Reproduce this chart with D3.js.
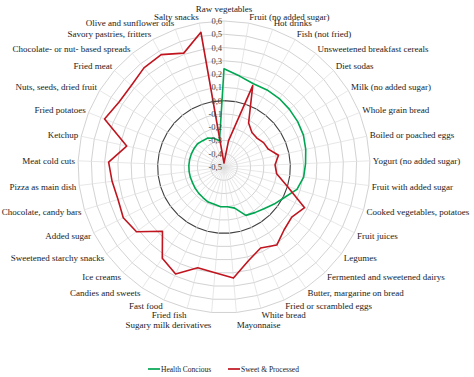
<!DOCTYPE html>
<html>
<head>
<meta charset="utf-8">
<script src="https://cdn.jsdelivr.net/npm/d3@7"></script>
<style>
  body { margin: 0; background: #fff; }
  svg { display: block; font-family: "Liberation Serif", "DejaVu Serif", serif; }
</style>
</head>
<body>
<svg width="474" height="377"></svg>
<script>
// categorias no sentido horário, a partir do topo
const categories = [
  "Raw vegetables", "Fruit (no added sugar)", "Hot drinks", "Fish (not fried)",
  "Unsweetened breakfast cereals", "Diet sodas", "Milk (no added sugar)",
  "Whole grain bread", "Boiled or poached eggs", "Yogurt (no added sugar)",
  "Fruit with added sugar", "Cooked vegetables, potatoes", "Fruit juices",
  "Legumes", "Fermented and sweetened dairys", "Butter, margarine on bread",
  "Fried or scrambled eggs", "White bread", "Mayonnaise",
  "Sugary milk derivatives", "Fried fish", "Fast food", "Candies and sweets",
  "Ice creams", "Sweetened starchy snacks", "Added sugar",
  "Chocolate, candy bars", "Pizza as main dish", "Meat cold cuts", "Ketchup",
  "Fried potatoes", "Nuts, seeds, dried fruit", "Fried meat",
  "Chocolate- or nut- based spreads", "Savory pastries, fritters",
  "Olive and sunflower oils", "Salty snacks"
];

const healthValues = [
  0.24, 0.195, 0.165, 0.165, 0.163, 0.157, 0.152, 0.145, 0.13, 0.115,
  0.105, 0.075, 0.01, -0.03, -0.065, -0.085, -0.10, -0.18, -0.20, -0.20,
  -0.21, -0.21, -0.22, -0.225, -0.23, -0.235, -0.235, -0.235, -0.235, -0.235,
  -0.235, -0.235, -0.235, -0.245, -0.25, -0.27, -0.30
];

const sweetValues = [
  -0.47, -0.30, 0.15, -0.12, -0.165, -0.17, -0.15, -0.14, -0.08, -0.115,
  -0.10, 0.0, 0.18, 0.135, 0.155, 0.21, 0.17, 0.23, 0.34, 0.30,
  0.285, 0.385, 0.33, 0.17, 0.32, 0.35, 0.335, 0.35, 0.37, 0.25,
  0.47, 0.43, 0.43, 0.46, 0.47, 0.41, 0.53
];

const tickValues = [-0.5, -0.4, -0.3, -0.2, -0.1, 0, 0.1, 0.2, 0.3, 0.4, 0.5, 0.6];

const seriesNames = ["Health Concious", "Sweet & Processed"];
const seriesColors = ["#00a651", "#c0141e"];

const svg = d3.select("svg");
const cx = 224, cy = 167, R = 146;

const r = d3.scaleLinear().domain([-0.5, 0.6]).range([0, R]);
const angle = d3.scaleLinear().domain([0, categories.length]).range([0, 2 * Math.PI]);

const g = svg.append("g").attr("transform", `translate(${cx},${cy})`);

// grade poligonal
const gridLine = d3.lineRadial()
  .angle((d, i) => angle(i))
  .curve(d3.curveLinearClosed);

g.selectAll("path.grid")
  .data(tickValues.filter(t => t > -0.5))
  .enter()
  .append("path")
  .attr("class", "grid")
  .attr("fill", "none")
  .attr("stroke", t => Math.abs(t) < 1e-9 ? "#404040" : "#c6c6c6")
  .attr("stroke-width", t => Math.abs(t) < 1e-9 ? 1.1 : 0.8)
  .attr("d", t => gridLine.radius(r(t))(categories));

// raios
g.selectAll("line.spoke")
  .data(categories)
  .enter()
  .append("line")
  .attr("class", "spoke")
  .attr("x1", 0).attr("y1", 0)
  .attr("x2", (d, i) => R * Math.sin(angle(i)))
  .attr("y2", (d, i) => -R * Math.cos(angle(i)))
  .attr("stroke", "#dcdcdc")
  .attr("stroke-width", 0.7);

// séries
const seriesLine = d3.lineRadial()
  .angle((d, i) => angle(i))
  .radius(d => r(d))
  .curve(d3.curveLinearClosed);

[healthValues, sweetValues].forEach((vals, k) => {
  g.append("path")
    .attr("fill", "none")
    .attr("stroke", seriesColors[k])
    .attr("stroke-width", 1.6)
    .attr("stroke-linejoin", "round")
    .attr("d", seriesLine(vals));
});

// rótulos do eixo
g.selectAll("text.tick")
  .data(tickValues)
  .enter()
  .append("text")
  .attr("class", "tick")
  .attr("x", -2)
  .attr("y", t => -r(t))
  .attr("dy", "0.35em")
  .attr("text-anchor", "end")
  .attr("font-size", "8.5px")
  .attr("fill", "#404040")
  .text(t => d3.format(".1f")(t).replace(".", ",").replace("−", "-"));

// rótulos das categorias
g.selectAll("text.cat")
  .data(categories)
  .enter()
  .append("text")
  .attr("class", "cat")
  .attr("font-size", "9px")
  .attr("fill", "#1a1a1a")
  .attr("text-anchor", (d, i) => {
    const s = Math.sin(angle(i));
    return Math.abs(s) < 0.01 ? "middle" : (s > 0 ? "start" : "end");
  })
  .attr("x", (d, i) => (R + 3) * Math.sin(angle(i)))
  .attr("y", (d, i) => {
    const s = Math.sin(angle(i)), c = Math.cos(angle(i));
    const off = Math.abs(s) < 0.1 ? 12.5 : 6.5;
    return -R * c - c * off;
  })
  .attr("dy", "0.35em")
  .text(d => d);

// legenda
const legend = svg.append("g").attr("transform", "translate(148,369)");
const legendX = [0, 80];
seriesNames.forEach((name, k) => {
  const lg = legend.append("g").attr("transform", `translate(${legendX[k]},0)`);
  lg.append("line")
    .attr("x1", 0).attr("x2", 12)
    .attr("stroke", seriesColors[k])
    .attr("stroke-width", 1.7);
  lg.append("text")
    .attr("x", 13)
    .attr("dy", "0.35em")
    .attr("font-size", "7.5px")
    .attr("fill", "#1a1a1a")
    .text(name);
});
</script>
</body>
</html>
